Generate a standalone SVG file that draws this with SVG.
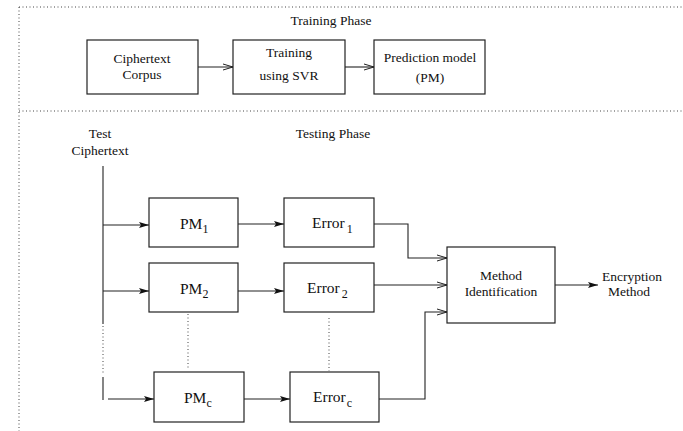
<svg xmlns="http://www.w3.org/2000/svg" width="683" height="431" viewBox="0 0 683 431">
<style>
text{font-family:"Liberation Serif","Times New Roman",serif;fill:#111;}
.t{font-size:13.5px;text-anchor:middle;}
.b{font-size:15.5px;}
.s{font-size:12px;}
.box{fill:none;stroke:#222;stroke-width:1.2;}
.ln{fill:none;stroke:#222;stroke-width:1.1;}
.dot{fill:none;stroke:#444;stroke-width:1;stroke-dasharray:1 2.5;}
</style>
<defs>
<marker id="fa" viewBox="0 0 10 6" refX="10" refY="3" markerWidth="10" markerHeight="6" markerUnits="userSpaceOnUse" orient="auto">
<path d="M0,0 L10,3 L0,6 L2,3 Z" fill="#111"/>
</marker>
<marker id="oa" viewBox="0 0 10 8" refX="10" refY="4" markerWidth="10" markerHeight="8" markerUnits="userSpaceOnUse" orient="auto">
<path d="M0,1 L10,4 L0,7" fill="none" stroke="#222" stroke-width="1"/>
</marker>
</defs>
<g id="frame">
<line class="dot" x1="19" y1="7" x2="683" y2="7"/>
<line class="dot" x1="19" y1="7" x2="19" y2="431"/>
<line class="dot" x1="19" y1="111" x2="683" y2="111"/>
<text class="t" x="331" y="25">Training Phase</text>
<text class="t" x="333" y="138">Testing Phase</text>
</g>
<g id="corpus"><rect class="box" x="87" y="40" width="111" height="54"/><text class="t" x="142" y="63">Ciphertext</text><text class="t" x="142" y="79">Corpus</text></g>
<g id="svr"><rect class="box" x="233" y="40" width="112" height="54"/><text class="t" x="289" y="57">Training</text><text class="t" x="289" y="80">using SVR</text></g>
<g id="pm"><rect class="box" x="374" y="40" width="111" height="54"/><text class="t" x="430" y="62">Prediction model</text><text class="t" x="430" y="82">(PM)</text></g>
<g id="test"><text class="t" x="100" y="138">Test</text><text class="t" x="100" y="155">Ciphertext</text></g>
<g id="pm1"><rect class="box" x="149" y="198" width="89" height="49"/><text class="b" x="180" y="229">PM<tspan class="s" dy="4">1</tspan></text></g>
<g id="pm2"><rect class="box" x="149" y="263" width="89" height="49"/><text class="b" x="180" y="294">PM<tspan class="s" dy="4">2</tspan></text></g>
<g id="pmc"><rect class="box" x="154" y="372" width="90" height="50"/><text class="b" x="184" y="403">PM<tspan class="s" dy="4">c</tspan></text></g>
<g id="err1"><rect class="box" x="284" y="198" width="90" height="49"/><text class="b" x="312" y="228">Error<tspan class="s" dx="2" dy="5">1</tspan></text></g>
<g id="err2"><rect class="box" x="284" y="263" width="90" height="49"/><text class="b" x="307" y="293">Error<tspan class="s" dx="2" dy="5">2</tspan></text></g>
<g id="errc"><rect class="box" x="290" y="372" width="89" height="50"/><text class="b" x="313" y="402">Error<tspan class="s" dx="1" dy="5">c</tspan></text></g>
<g id="method"><rect class="box" x="447" y="247" width="108" height="76"/><text class="t" x="501" y="280">Method</text><text class="t" x="501" y="296">Identification</text></g>
<g id="out"><text class="t" x="632" y="281">Encryption</text><text class="t" x="629" y="296">Method</text></g>
<g id="connectors">
<line class="ln" x1="198" y1="67" x2="233" y2="67" marker-end="url(#oa)"/>
<line class="ln" x1="345" y1="67" x2="374" y2="67" marker-end="url(#oa)"/>
<line class="ln" x1="103" y1="166" x2="103" y2="324"/>
<line class="dot" x1="103" y1="326" x2="103" y2="374"/>
<line class="ln" x1="103" y1="377" x2="103" y2="400"/>
<line class="ln" x1="103" y1="225" x2="149" y2="225" marker-end="url(#fa)"/>
<line class="ln" x1="103" y1="291" x2="149" y2="291" marker-end="url(#fa)"/>
<line class="ln" x1="108" y1="399" x2="154" y2="399" marker-end="url(#fa)"/>
<line class="ln" x1="238" y1="224" x2="284" y2="224" marker-end="url(#fa)"/>
<line class="ln" x1="238" y1="291" x2="284" y2="291" marker-end="url(#fa)"/>
<line class="ln" x1="244" y1="399" x2="290" y2="399" marker-end="url(#fa)"/>
<line class="dot" x1="188" y1="314" x2="188" y2="368"/>
<line class="dot" x1="329" y1="318" x2="329" y2="371"/>
<polyline class="ln" points="374,224 408,224 408,258 447,258" marker-end="url(#oa)"/>
<line class="ln" x1="374" y1="285" x2="447" y2="285" marker-end="url(#oa)"/>
<polyline class="ln" points="379,399 425,399 425,312 447,312" marker-end="url(#oa)"/>
<line class="ln" x1="555" y1="285" x2="598" y2="285" marker-end="url(#fa)"/>
</g>
</svg>
